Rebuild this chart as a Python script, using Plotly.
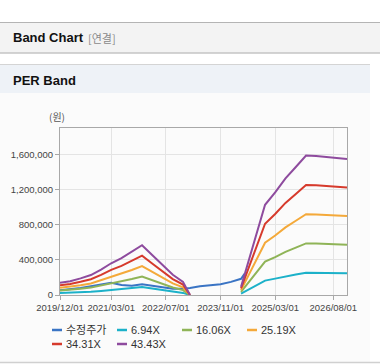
import plotly.graph_objects as go

W, H = 380, 364

# ---- data ----
price_name = "수정주가"
price_dates = ["2019-12-01", "2020-03-01", "2020-06-01", "2020-09-01", "2020-12-01",
               "2021-03-01", "2021-06-01", "2021-09-01", "2021-12-01", "2022-03-01",
               "2022-06-01", "2022-09-01", "2022-12-01", "2023-02-01", "2023-05-01",
               "2023-08-01", "2023-11-01", "2024-02-01", "2024-05-01", "2024-06-01"]
price_values = [55000, 65000, 80000, 100000, 120000, 140000, 115000, 105000, 122000, 105000,
                82000, 70000, 72000, 80000, 100000, 115000, 122000, 150000, 185000, 240000]

band_dates = ["2019-12-01", "2020-03-01", "2020-06-01", "2020-09-01", "2020-12-01",
              "2021-03-01", "2021-06-01", "2021-09-01", "2021-12-01", "2022-03-01",
              "2022-06-01", "2022-09-01", "2022-12-01", "2023-02-01", "2023-09-01",
              "2024-05-01", "2024-12-01", "2025-03-01", "2025-06-01", "2025-09-01",
              "2025-12-01", "2026-03-01", "2026-06-01", "2026-09-01", "2026-12-01"]

band_names = ["6.94X", "16.06X", "25.19X", "34.31X", "43.43X"]
band_694 = [22400, 25200, 30400, 36400, 46300, 57800, 67100, 78600, 90800, 72900,
            54500, 36800, 24000, 0, None,
            15200, 164400, 187000, 212500, 233300, 254100, 253300, 251700, 250100, 248000]
band_1606 = [51800, 58400, 70300, 84300, 107200, 133900, 155300, 181900, 210000, 168600,
             126100, 85100, 55500, 0, None,
             35100, 380500, 432700, 491800, 539900, 588000, 586100, 582400, 578700, 573900]
band_2519 = [81200, 91600, 110200, 132200, 168200, 210000, 243600, 285400, 329500, 264500,
             197800, 133400, 87000, 0, None,
             55100, 596800, 678600, 771400, 846800, 922200, 919300, 913500, 907700, 900200]
band_3431 = [110600, 124800, 150100, 180100, 229100, 286000, 331800, 388700, 448700, 360200,
             269400, 181700, 118500, 0, None,
             75100, 812900, 924300, 1050700, 1153400, 1256100, 1252200, 1244300, 1236400, 1226100]
band_4343 = [140000, 158000, 190000, 228000, 290000, 362000, 420000, 492000, 568000, 456000,
             341000, 230000, 150000, 0, None,
             95000, 1029000, 1170000, 1330000, 1460000, 1590000, 1585000, 1575000, 1565000, 1552000]

x_tick_vals = ["2019-12-01", "2021-03-01", "2022-07-01", "2023-11-01", "2025-03-01", "2026-08-01"]
x_tick_text = ["2019/12/01", "2021/03/01", "2022/07/01", "2023/11/01", "2025/03/01", "2026/08/01"]
y_tick_vals = [0, 400000, 800000, 1200000, 1600000]
y_unit = "(원)"

colors = ["#3a74c4", "#1cb1c9", "#8fb457", "#f4a93a", "#d63a2c", "#8e4b9e"]

# ---- helpers ----
def px(x):
    return x / W

def py(y):
    return 1 - y / H

fig = go.Figure()

band_series = [band_694, band_1606, band_2519, band_3431, band_4343]
fig.add_trace(go.Scatter(x=price_dates, y=price_values, name=price_name, mode="lines",
                         line=dict(color=colors[0], width=2), connectgaps=False))
for i, (nm, vals) in enumerate(zip(band_names, band_series)):
    fig.add_trace(go.Scatter(x=band_dates, y=vals, name=nm, mode="lines",
                             line=dict(color=colors[i + 1], width=2), connectgaps=False))

shapes = []
annotations = []

# page header decorations
shapes.append(dict(type="rect", xref="paper", yref="paper", x0=px(0), x1=px(380),
                   y0=py(53), y1=py(22), fillcolor="#f3f3f3", line=dict(width=0), layer="below"))
shapes.append(dict(type="line", xref="paper", yref="paper", x0=px(0), x1=px(380),
                   y0=py(22.5), y1=py(22.5), line=dict(color="#b4b4b4", width=1)))
shapes.append(dict(type="line", xref="paper", yref="paper", x0=px(0), x1=px(380),
                   y0=py(53), y1=py(53), line=dict(color="#c4c4c4", width=1.5)))
# section panel
shapes.append(dict(type="rect", xref="paper", yref="paper", x0=px(0), x1=px(370),
                   y0=py(362), y1=py(93), fillcolor="#fbfbfb", line=dict(width=0), layer="below"))
shapes.append(dict(type="rect", xref="paper", yref="paper", x0=px(0), x1=px(370),
                   y0=py(93), y1=py(64), fillcolor="#eef2f7", line=dict(width=0), layer="below"))
shapes.append(dict(type="line", xref="paper", yref="paper", x0=px(0), x1=px(370),
                   y0=py(64.5), y1=py(64.5), line=dict(color="#d4d4d4", width=1)))
shapes.append(dict(type="line", xref="paper", yref="paper", x0=px(0), x1=px(380),
                   y0=py(362.5), y1=py(362.5), line=dict(color="#d0d0d0", width=1.5)))

annotations.append(dict(xref="paper", yref="paper", x=px(11), y=py(38), xanchor="left",
                        yanchor="middle", text="<b>Band Chart</b>", showarrow=False,
                        font=dict(family="Liberation Sans, Noto Sans CJK KR", size=13, color="#111")))
annotations.append(dict(xref="paper", yref="paper", x=px(86), y=py(38), xanchor="left",
                        yanchor="middle", text="[연결]", showarrow=False,
                        font=dict(family="Noto Sans CJK KR", size=11, color="#8a8a8a")))
annotations.append(dict(xref="paper", yref="paper", x=px(11), y=py(80), xanchor="left",
                        yanchor="middle", text="<b>PER Band</b>", showarrow=False,
                        font=dict(family="Liberation Sans, Noto Sans CJK KR", size=13, color="#111")))
annotations.append(dict(xref="paper", yref="paper", x=px(57), y=py(117), xanchor="center",
                        yanchor="middle", text=y_unit, showarrow=False,
                        font=dict(family="Noto Sans CJK KR", size=10, color="#555")))

# custom legend
legend_names = [price_name] + band_names
legend_pos = [(52, 330), (117, 330), (182, 330), (247, 330), (52, 344), (117, 344)]
for nm, c, (lx, ly) in zip(legend_names, colors, legend_pos):
    shapes.append(dict(type="line", xref="paper", yref="paper", x0=px(lx), x1=px(lx + 10),
                       y0=py(ly), y1=py(ly), line=dict(color=c, width=2.5)))
    annotations.append(dict(xref="paper", yref="paper", x=px(lx + 12), y=py(ly), xanchor="left",
                            yanchor="middle", text=nm, showarrow=False,
                            font=dict(family="Liberation Sans, Noto Sans CJK KR", size=11, color="#333")))

fig.update_layout(
    width=W, height=H, autosize=False,
    margin=dict(l=0, r=0, t=0, b=0, pad=0, autoexpand=False),
    paper_bgcolor="#ffffff",
    plot_bgcolor="#fbfbfb",
    showlegend=False,
    shapes=shapes,
    annotations=annotations,
    xaxis=dict(
        domain=[px(60), px(347)], type="date",
        range=["2019-12-01", "2026-12-01"],
        tickvals=x_tick_vals, ticktext=x_tick_text, tickangle=0,
        showgrid=True, gridcolor="#e4e4e4", gridwidth=1,
        showline=True, linecolor="#a8a8a8", linewidth=1, mirror=True,
        ticks="outside", ticklen=4, tickcolor="#a8a8a8",
        tickfont=dict(family="Liberation Sans", size=9.5, color="#444"),
        zeroline=False, fixedrange=True, automargin=False,
    ),
    yaxis=dict(
        domain=[py(295), py(128)],
        range=[0, 1905000],
        tickvals=y_tick_vals, tickformat=",d",
        showgrid=True, gridcolor="#e4e4e4", gridwidth=1,
        showline=True, linecolor="#a8a8a8", linewidth=1, mirror=True,
        ticks="outside", ticklen=4, tickcolor="#a8a8a8",
        tickfont=dict(family="Liberation Sans", size=9.5, color="#444"),
        zeroline=False, fixedrange=True, automargin=False,
    ),
)

fig.write_html("out.html", config={"displayModeBar": False},
               post_script="document.body.style.margin='0';document.body.style.overflow='hidden';")
